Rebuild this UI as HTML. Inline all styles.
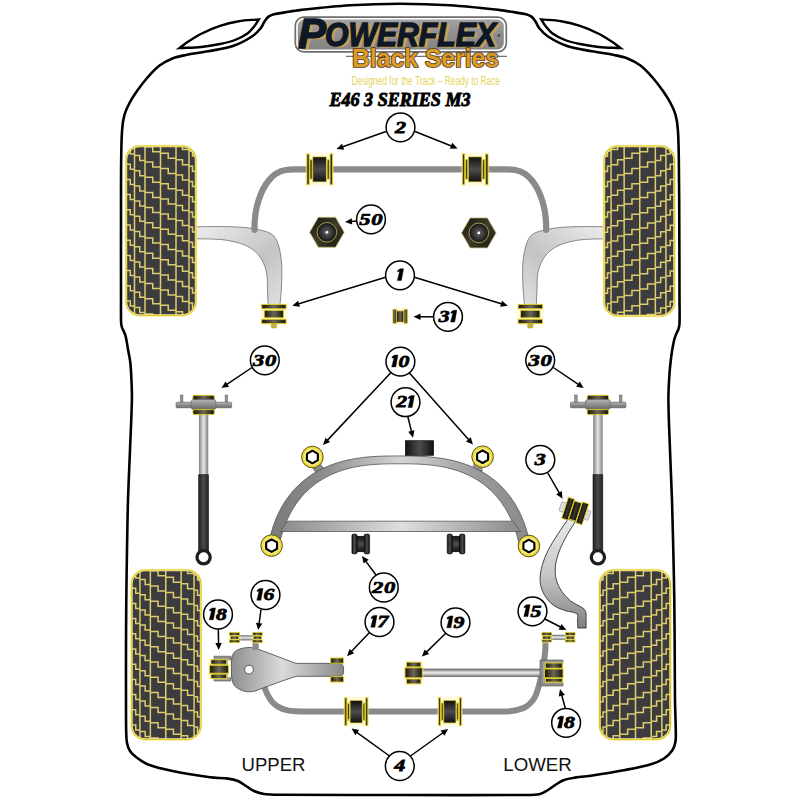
<!DOCTYPE html>
<html><head><meta charset="utf-8"><style>html,body{margin:0;padding:0;background:#fff;}svg{display:block;}</style></head>
<body><svg width="800" height="800" viewBox="0 0 800 800">
<defs>
<linearGradient id="gDarkH" x1="0" y1="0" x2="1" y2="0"><stop offset="0" stop-color="#0c0c0a"/><stop offset="0.5" stop-color="#38362e"/><stop offset="1" stop-color="#0c0c0a"/></linearGradient>
<linearGradient id="gGrayH" x1="0" y1="0" x2="1" y2="0"><stop offset="0" stop-color="#121212"/><stop offset="0.5" stop-color="#4c4c4c"/><stop offset="1" stop-color="#121212"/></linearGradient>
<linearGradient id="gDarkV" x1="0" y1="0" x2="0" y2="1"><stop offset="0" stop-color="#101010"/><stop offset="0.5" stop-color="#4c4c4c"/><stop offset="1" stop-color="#101010"/></linearGradient>
<linearGradient id="gDarkF" x1="0" y1="0" x2="1" y2="0"><stop offset="0" stop-color="#1a1408"/><stop offset="0.5" stop-color="#6a6858"/><stop offset="1" stop-color="#1a1408"/></linearGradient>
<linearGradient id="gArmL" x1="0" y1="0" x2="1" y2="1"><stop offset="0" stop-color="#ededed"/><stop offset="0.6" stop-color="#c4c4c4"/><stop offset="1" stop-color="#e0e0e0"/></linearGradient>
<linearGradient id="gArmR" x1="1" y1="0" x2="0" y2="1"><stop offset="0" stop-color="#ededed"/><stop offset="0.6" stop-color="#c4c4c4"/><stop offset="1" stop-color="#e0e0e0"/></linearGradient>
<linearGradient id="gRod" x1="0" y1="0" x2="1" y2="0"><stop offset="0" stop-color="#8a8a8a"/><stop offset="0.5" stop-color="#e6e6e6"/><stop offset="1" stop-color="#8a8a8a"/></linearGradient>
<linearGradient id="gRodH" x1="0" y1="0" x2="0" y2="1"><stop offset="0" stop-color="#777"/><stop offset="0.5" stop-color="#eee"/><stop offset="1" stop-color="#777"/></linearGradient>
<linearGradient id="gShock" x1="0" y1="0" x2="1" y2="0"><stop offset="0" stop-color="#222"/><stop offset="0.5" stop-color="#4a4a4a"/><stop offset="1" stop-color="#222"/></linearGradient>
<linearGradient id="gSub" x1="0" y1="0" x2="1" y2="0"><stop offset="0" stop-color="#7a7a7a"/><stop offset="0.2" stop-color="#8a8a8a"/><stop offset="0.5" stop-color="#d4d4d4"/><stop offset="0.8" stop-color="#9a9a9a"/><stop offset="1" stop-color="#8a8a8a"/></linearGradient>
<linearGradient id="gSubBar" x1="0" y1="0" x2="1" y2="0"><stop offset="0" stop-color="#8a8a8a"/><stop offset="0.5" stop-color="#dedede"/><stop offset="1" stop-color="#8a8a8a"/></linearGradient>
<linearGradient id="gTrail" x1="0" y1="0" x2="0" y2="1"><stop offset="0" stop-color="#e8e8e8"/><stop offset="0.5" stop-color="#c8c8c8"/><stop offset="1" stop-color="#808080"/></linearGradient>
<linearGradient id="gUArm" x1="0" y1="0" x2="1" y2="0"><stop offset="0" stop-color="#8e8e8e"/><stop offset="0.45" stop-color="#dadada"/><stop offset="1" stop-color="#8a8a8a"/></linearGradient>
<linearGradient id="gPlate" x1="0" y1="0" x2="0" y2="1"><stop offset="0" stop-color="#b4b4b4"/><stop offset="0.5" stop-color="#8e8e8e"/><stop offset="1" stop-color="#6a6a6a"/></linearGradient>
<radialGradient id="gNut" cx="0.5" cy="0.5" r="0.5"><stop offset="0" stop-color="#666"/><stop offset="1" stop-color="#111"/></radialGradient>
<linearGradient id="gHex" x1="0" y1="0" x2="1" y2="1"><stop offset="0" stop-color="#16160f"/><stop offset="0.5" stop-color="#3e3c2e"/><stop offset="1" stop-color="#16160f"/></linearGradient>
<clipPath id="tclip"><rect x="0" y="0" width="70" height="169.5" rx="14" ry="14"/></clipPath><g id="tire"><rect x="0" y="0" width="70" height="169.5" rx="14" ry="14" fill="#3c3b3e"/><g clip-path="url(#tclip)" fill="none" stroke="#dccd6e" stroke-width="1.5"><path d="M8.5,0V169.5M19,0V169.5M34.5,0V169.5M50,0V169.5M63,0V169.5M0,-27.40H4.25 V-22.40H8.5M0,-12.20H4.25 V-7.20H8.5M0,3.00H4.25 V8.00H8.5M0,18.20H4.25 V23.20H8.5M0,33.40H4.25 V38.40H8.5M0,48.60H4.25 V53.60H8.5M0,63.80H4.25 V68.80H8.5M0,79.00H4.25 V84.00H8.5M0,94.20H4.25 V99.20H8.5M0,109.40H4.25 V114.40H8.5M0,124.60H4.25 V129.60H8.5M0,139.80H4.25 V144.80H8.5M0,155.00H4.25 V160.00H8.5M0,170.20H4.25 V175.20H8.5M0,185.40H4.25 V190.40H8.5M0,200.60H4.25 V205.60H8.5M8.5,-20.90H13.75 V-15.90H19M8.5,-5.70H13.75 V-0.70H19M8.5,9.50H13.75 V14.50H19M8.5,24.70H13.75 V29.70H19M8.5,39.90H13.75 V44.90H19M8.5,55.10H13.75 V60.10H19M8.5,70.30H13.75 V75.30H19M8.5,85.50H13.75 V90.50H19M8.5,100.70H13.75 V105.70H19M8.5,115.90H13.75 V120.90H19M8.5,131.10H13.75 V136.10H19M8.5,146.30H13.75 V151.30H19M8.5,161.50H13.75 V166.50H19M8.5,176.70H13.75 V181.70H19M8.5,191.90H13.75 V196.90H19M8.5,207.10H13.75 V212.10H19M19,-14.40H26.75 V-9.40H34.5M19,0.80H26.75 V5.80H34.5M19,16.00H26.75 V21.00H34.5M19,31.20H26.75 V36.20H34.5M19,46.40H26.75 V51.40H34.5M19,61.60H26.75 V66.60H34.5M19,76.80H26.75 V81.80H34.5M19,92.00H26.75 V97.00H34.5M19,107.20H26.75 V112.20H34.5M19,122.40H26.75 V127.40H34.5M19,137.60H26.75 V142.60H34.5M19,152.80H26.75 V157.80H34.5M19,168.00H26.75 V173.00H34.5M19,183.20H26.75 V188.20H34.5M19,198.40H26.75 V203.40H34.5M19,213.60H26.75 V218.60H34.5M34.5,-7.90H42.25 V-2.90H50M34.5,7.30H42.25 V12.30H50M34.5,22.50H42.25 V27.50H50M34.5,37.70H42.25 V42.70H50M34.5,52.90H42.25 V57.90H50M34.5,68.10H42.25 V73.10H50M34.5,83.30H42.25 V88.30H50M34.5,98.50H42.25 V103.50H50M34.5,113.70H42.25 V118.70H50M34.5,128.90H42.25 V133.90H50M34.5,144.10H42.25 V149.10H50M34.5,159.30H42.25 V164.30H50M34.5,174.50H42.25 V179.50H50M34.5,189.70H42.25 V194.70H50M34.5,204.90H42.25 V209.90H50M34.5,220.10H42.25 V225.10H50M50,-1.40H56.5 V3.60H63M50,13.80H56.5 V18.80H63M50,29.00H56.5 V34.00H63M50,44.20H56.5 V49.20H63M50,59.40H56.5 V64.40H63M50,74.60H56.5 V79.60H63M50,89.80H56.5 V94.80H63M50,105.00H56.5 V110.00H63M50,120.20H56.5 V125.20H63M50,135.40H56.5 V140.40H63M50,150.60H56.5 V155.60H63M50,165.80H56.5 V170.80H63M50,181.00H56.5 V186.00H63M50,196.20H56.5 V201.20H63M50,211.40H56.5 V216.40H63M50,226.60H56.5 V231.60H63M63,5.10H66.5 V10.10H70M63,20.30H66.5 V25.30H70M63,35.50H66.5 V40.50H70M63,50.70H66.5 V55.70H70M63,65.90H66.5 V70.90H70M63,81.10H66.5 V86.10H70M63,96.30H66.5 V101.30H70M63,111.50H66.5 V116.50H70M63,126.70H66.5 V131.70H70M63,141.90H66.5 V146.90H70M63,157.10H66.5 V162.10H70M63,172.30H66.5 V177.30H70M63,187.50H66.5 V192.50H70M63,202.70H66.5 V207.70H70M63,217.90H66.5 V222.90H70M63,233.10H66.5 V238.10H70"/></g><rect x="0" y="0" width="70" height="169.5" rx="14" ry="14" fill="none" stroke="#f8eea0" stroke-width="2.4"/><rect x="0" y="0" width="70" height="169.5" rx="14" ry="14" fill="none" stroke="#e0c828" stroke-width="1.1"/></g></defs>
<rect width="800" height="800" fill="#fff"/>
<path d="M 280.00,794.80 C 274.66,794.76 269.28,794.77 264.00,794.00 C 260.56,793.50 257.18,792.41 254.00,791.00 C 251.13,789.72 248.67,787.67 246.00,786.00 C 243.33,784.33 240.91,782.20 238.00,781.00 C 234.83,779.70 231.40,779.05 228.00,778.60 C 222.04,777.81 215.96,778.12 210.00,777.30 C 197.44,775.58 184.91,773.56 172.50,771.00 C 164.23,769.29 155.89,767.53 148.00,764.50 C 143.60,762.81 139.77,759.83 136.00,757.00 C 133.74,755.30 131.53,753.38 130.00,751.00 C 128.46,748.60 127.56,745.79 127.00,743.00 C 126.28,739.40 126.29,735.68 126.20,732.00 C 125.95,721.34 126.03,710.67 126.00,700.00 C 125.96,683.33 125.95,666.67 126.00,650.00 C 126.05,633.33 126.13,616.67 126.30,600.00 C 126.47,583.33 126.72,566.67 127.00,550.00 C 127.28,533.33 127.50,516.66 128.00,500.00 C 128.50,483.33 129.35,466.67 130.00,450.00 C 130.65,433.33 131.54,416.67 131.90,400.00 C 132.04,393.67 131.77,387.33 131.50,381.00 C 131.24,374.83 130.97,368.64 130.30,362.50 C 129.84,358.29 128.84,354.17 128.10,350.00 C 127.27,345.33 126.69,340.61 125.60,336.00 C 125.21,334.36 124.36,332.86 123.70,331.30 C 123.16,330.02 122.39,328.83 122.00,327.50 C 121.52,325.88 121.16,324.19 121.10,322.50 C 120.83,315.00 121.01,307.50 121.00,300.00 C 120.97,266.67 120.95,233.33 121.00,200.00 C 121.02,186.00 120.98,172.00 121.20,158.00 C 121.35,148.66 121.41,139.31 122.10,130.00 C 122.48,124.96 123.06,119.88 124.40,115.00 C 125.55,110.81 127.48,106.85 129.50,103.00 C 131.69,98.82 134.28,94.85 137.00,91.00 C 140.29,86.34 143.73,81.77 147.50,77.50 C 151.24,73.26 154.99,68.91 159.50,65.50 C 163.58,62.41 168.24,60.08 173.00,58.20 C 177.15,56.56 181.62,55.86 186.00,55.00 C 193.30,53.56 200.70,52.70 208.00,51.30 C 216.37,49.70 224.93,48.72 233.00,46.00 C 239.71,43.74 246.03,40.30 252.00,36.50 C 255.28,34.41 258.01,31.49 260.50,28.50 C 262.22,26.44 263.00,23.73 264.50,21.50 C 265.68,19.75 266.82,17.87 268.50,16.60 C 270.08,15.40 272.07,14.79 274.00,14.30 C 277.61,13.38 281.33,12.99 285.00,12.40 C 289.99,11.59 294.97,10.65 300.00,10.10 C 316.64,8.28 333.29,6.37 350.00,5.30 C 366.64,4.23 383.32,3.70 400.00,3.70 C 416.68,3.70 433.36,4.23 450.00,5.30 C 466.71,6.37 483.36,8.28 500.00,10.10 C 505.03,10.65 510.01,11.59 515.00,12.40 C 518.67,12.99 522.39,13.38 526.00,14.30 C 527.93,14.79 529.92,15.40 531.50,16.60 C 533.18,17.87 534.32,19.75 535.50,21.50 C 537.00,23.73 537.78,26.44 539.50,28.50 C 541.99,31.49 544.72,34.41 548.00,36.50 C 553.97,40.30 560.29,43.74 567.00,46.00 C 575.07,48.72 583.63,49.70 592.00,51.30 C 599.30,52.70 606.70,53.56 614.00,55.00 C 618.38,55.86 622.85,56.56 627.00,58.20 C 631.76,60.08 636.42,62.41 640.50,65.50 C 645.01,68.91 648.76,73.26 652.50,77.50 C 656.27,81.77 659.71,86.34 663.00,91.00 C 665.72,94.85 668.31,98.82 670.50,103.00 C 672.52,106.85 674.45,110.81 675.60,115.00 C 676.94,119.88 677.52,124.96 677.90,130.00 C 678.59,139.31 678.63,148.66 678.80,158.00 C 679.06,172.00 679.13,186.00 679.20,200.00 C 679.36,233.33 679.42,266.67 679.50,300.00 C 679.52,308.00 679.83,316.01 679.50,324.00 C 679.42,325.87 678.89,327.72 678.30,329.50 C 677.72,331.24 676.66,332.79 676.00,334.50 C 675.19,336.63 674.39,338.78 673.90,341.00 C 672.82,345.96 671.97,350.97 671.30,356.00 C 670.46,362.31 669.82,368.65 669.40,375.00 C 668.85,383.32 668.33,391.66 668.40,400.00 C 668.53,416.67 669.40,433.34 670.00,450.00 C 670.60,466.67 671.45,483.33 672.00,500.00 C 672.55,516.66 672.92,533.33 673.30,550.00 C 673.68,566.67 674.07,583.33 674.30,600.00 C 674.53,616.67 674.58,633.33 674.70,650.00 C 674.82,666.67 674.78,683.33 675.00,700.00 C 675.14,710.67 675.70,721.33 675.80,732.00 C 675.83,735.34 676.01,738.72 675.40,742.00 C 674.86,744.89 674.07,747.88 672.40,750.30 C 670.18,753.52 667.28,756.37 664.00,758.50 C 660.03,761.08 655.54,762.86 651.00,764.20 C 642.48,766.71 633.72,768.32 625.00,770.00 C 614.21,772.08 603.36,773.85 592.50,775.50 C 586.69,776.38 580.80,776.68 575.00,777.60 C 571.29,778.19 567.53,778.72 564.00,780.00 C 561.12,781.04 558.59,782.88 556.00,784.50 C 553.26,786.22 550.78,788.35 548.00,790.00 C 545.44,791.52 542.91,793.37 540.00,794.00 C 535.10,795.06 530.01,794.96 525.00,795.00 C 483.33,795.30 441.67,795.03 400.00,795.00 C 360.00,794.97 320.00,795.09 280.00,794.80 Z" fill="none" stroke="#000" stroke-width="2.6" stroke-linejoin="round"/>
<path d="M 179.40,48.10 C 182.52,45.83 185.52,43.41 188.75,41.30 C 192.83,38.64 196.93,35.97 201.30,33.80 C 207.37,30.79 213.57,27.96 220.00,25.80 C 226.12,23.75 232.43,22.25 238.80,21.20 C 245.40,20.11 252.13,20.00 258.80,19.40 L 258.80,19.40 C 257.37,21.60 256.14,23.95 254.50,26.00 C 252.36,28.67 250.28,31.51 247.50,33.50 C 243.69,36.24 239.39,38.32 235.00,40.00 C 230.17,41.85 225.07,42.95 220.00,44.00 C 213.82,45.28 207.58,46.37 201.30,47.00 C 194.03,47.73 186.70,47.73 179.40,48.10 Z" fill="none" stroke="#000" stroke-width="2.4" stroke-linejoin="miter" stroke-miterlimit="10"/><path d="M 620.60,48.10 C 617.48,45.83 614.48,43.41 611.25,41.30 C 607.17,38.64 603.07,35.97 598.70,33.80 C 592.63,30.79 586.43,27.96 580.00,25.80 C 573.88,23.75 567.57,22.25 561.20,21.20 C 554.60,20.11 547.87,20.00 541.20,19.40 L 541.20,19.40 C 542.63,21.60 543.86,23.95 545.50,26.00 C 547.64,28.67 549.72,31.51 552.50,33.50 C 556.31,36.24 560.61,38.32 565.00,40.00 C 569.83,41.85 574.93,42.95 580.00,44.00 C 586.18,45.28 592.42,46.37 598.70,47.00 C 605.97,47.73 613.30,47.73 620.60,48.10 Z" fill="none" stroke="#000" stroke-width="2.4" stroke-linejoin="miter" stroke-miterlimit="10"/>
<path d="M 196.00,226.90 C 204.00,226.77 212.00,226.40 220.00,226.50 C 228.34,226.60 236.69,226.77 245.00,227.50 C 250.05,227.94 255.06,228.87 260.00,230.00 C 263.41,230.78 266.87,231.63 270.00,233.20 C 271.97,234.18 273.77,235.68 275.00,237.50 C 276.78,240.15 277.91,243.23 278.80,246.30 C 279.99,250.37 280.68,254.59 281.20,258.80 C 281.71,262.94 281.89,267.13 281.90,271.30 C 281.92,277.54 281.66,283.77 281.30,290.00 C 281.02,294.84 280.43,299.67 280.00,304.50  L 268.10,304.50 C 267.90,299.67 267.70,294.83 267.50,290.00 C 267.30,285.00 267.60,279.95 266.90,275.00 C 266.36,271.16 265.37,267.34 263.80,263.80 C 262.20,260.20 260.19,256.68 257.50,253.80 C 254.66,250.75 251.18,248.25 247.50,246.30 C 243.60,244.23 239.28,242.98 235.00,241.90 C 230.08,240.67 225.05,239.80 220.00,239.40 C 212.02,238.77 204.00,239.00 196.00,238.80  Z" fill="url(#gArmL)" stroke="#6e6e6e" stroke-width="0.8"/><path d="M 608.50,226.90 C 600.50,226.77 592.50,226.40 584.50,226.50 C 576.16,226.60 567.81,226.77 559.50,227.50 C 554.45,227.94 549.44,228.87 544.50,230.00 C 541.09,230.78 537.63,231.63 534.50,233.20 C 532.53,234.18 530.73,235.68 529.50,237.50 C 527.72,240.15 526.59,243.23 525.70,246.30 C 524.51,250.37 523.82,254.59 523.30,258.80 C 522.79,262.94 522.61,267.13 522.60,271.30 C 522.58,277.54 522.84,283.77 523.20,290.00 C 523.48,294.84 524.07,299.67 524.50,304.50  L 536.40,304.50 C 536.60,299.67 536.80,294.83 537.00,290.00 C 537.20,285.00 536.90,279.95 537.60,275.00 C 538.14,271.16 539.13,267.34 540.70,263.80 C 542.30,260.20 544.31,256.68 547.00,253.80 C 549.84,250.75 553.32,248.25 557.00,246.30 C 560.90,244.23 565.22,242.98 569.50,241.90 C 574.42,240.67 579.45,239.80 584.50,239.40 C 592.48,238.77 600.50,239.00 608.50,238.80  Z" fill="url(#gArmR)" stroke="#6e6e6e" stroke-width="0.8"/><path d="M 254.50,230.00 C 254.57,227.33 254.50,224.66 254.70,222.00 C 254.97,218.32 255.24,214.63 255.90,211.00 C 256.58,207.28 257.53,203.60 258.70,200.00 C 259.87,196.42 261.18,192.85 262.90,189.50 C 264.53,186.32 266.44,183.27 268.70,180.50 C 270.74,178.00 272.95,175.50 275.70,173.80 C 278.73,171.93 282.19,170.62 285.70,170.00 C 290.63,169.13 295.70,169.60 300.70,169.40  L500,169.4 L 500.00,169.40 C 505.00,169.60 510.07,169.13 515.00,170.00 C 518.51,170.62 521.97,171.93 525.00,173.80 C 527.75,175.50 529.96,178.00 532.00,180.50 C 534.26,183.27 536.17,186.32 537.80,189.50 C 539.52,192.85 540.83,196.42 542.00,200.00 C 543.17,203.60 544.12,207.28 544.80,211.00 C 545.46,214.63 545.73,218.32 546.00,222.00 C 546.20,224.66 546.13,227.33 546.20,230.00 " fill="none" stroke="#8a8a8a" stroke-width="6.2" stroke-linecap="round" stroke-linejoin="round"/><rect x="305.30" y="152.50" width="28.70" height="33.70" rx="2" fill="#fbf3a0" opacity="0.3"/><rect x="306.90" y="154.00" width="2.30" height="30.70" rx="0" fill="url(#gDarkH)" stroke="#e2cf1e" stroke-width="0.9"/><rect x="310.00" y="159.70" width="2.10" height="19.40" rx="0" fill="url(#gDarkH)" stroke="#e2cf1e" stroke-width="0.9"/><rect x="312.80" y="156.90" width="13.50" height="25.00" rx="0" fill="url(#gDarkV)" stroke="#e2cf1e" stroke-width="0.7"/><rect x="327.20" y="159.70" width="2.00" height="19.40" rx="0" fill="url(#gDarkH)" stroke="#e2cf1e" stroke-width="0.9"/><rect x="330.10" y="154.00" width="2.40" height="30.70" rx="0" fill="url(#gDarkH)" stroke="#e2cf1e" stroke-width="0.9"/><rect x="460.80" y="152.50" width="28.70" height="33.70" rx="2" fill="#fbf3a0" opacity="0.3"/><rect x="462.40" y="154.00" width="2.30" height="30.70" rx="0" fill="url(#gDarkH)" stroke="#e2cf1e" stroke-width="0.9"/><rect x="465.50" y="159.70" width="2.10" height="19.40" rx="0" fill="url(#gDarkH)" stroke="#e2cf1e" stroke-width="0.9"/><rect x="468.30" y="156.90" width="13.50" height="25.00" rx="0" fill="url(#gDarkV)" stroke="#e2cf1e" stroke-width="0.7"/><rect x="482.70" y="159.70" width="2.00" height="19.40" rx="0" fill="url(#gDarkH)" stroke="#e2cf1e" stroke-width="0.9"/><rect x="485.60" y="154.00" width="2.40" height="30.70" rx="0" fill="url(#gDarkH)" stroke="#e2cf1e" stroke-width="0.9"/><rect x="260.25" y="303.00" width="27.30" height="22.10" rx="2" fill="#fbf3a0" opacity="0.3"/><rect x="261.75" y="304.50" width="24.30" height="4.30" rx="0" fill="url(#gDarkF)" stroke="#e2cf1e" stroke-width="0.9"/><rect x="264.25" y="310.30" width="19.30" height="7.50" rx="0" fill="url(#gDarkF)" stroke="#e2cf1e" stroke-width="0.9"/><rect x="261.75" y="319.30" width="24.30" height="4.30" rx="0" fill="url(#gDarkF)" stroke="#e2cf1e" stroke-width="0.9"/><rect x="271.30" y="323.60" width="5.20" height="4.50" rx="1" fill="#c9b23a" stroke="#b09a20" stroke-width="0.5"/><rect x="516.65" y="303.00" width="27.30" height="22.10" rx="2" fill="#fbf3a0" opacity="0.3"/><rect x="518.15" y="304.50" width="24.30" height="4.30" rx="0" fill="url(#gDarkF)" stroke="#e2cf1e" stroke-width="0.9"/><rect x="520.65" y="310.30" width="19.30" height="7.50" rx="0" fill="url(#gDarkF)" stroke="#e2cf1e" stroke-width="0.9"/><rect x="518.15" y="319.30" width="24.30" height="4.30" rx="0" fill="url(#gDarkF)" stroke="#e2cf1e" stroke-width="0.9"/><rect x="527.70" y="323.60" width="5.20" height="4.50" rx="1" fill="#c9b23a" stroke="#b09a20" stroke-width="0.5"/><rect x="391.50" y="308.00" width="17.20" height="16.70" rx="2" fill="#fbf3a0" opacity="0.3"/><rect x="393.00" y="309.50" width="3.20" height="13.70" rx="0" fill="url(#gDarkF)" stroke="#c8b41c" stroke-width="0.8"/><rect x="396.80" y="311.00" width="6.80" height="11.00" rx="0" fill="url(#gDarkF)" stroke="#c8b41c" stroke-width="0.6"/><rect x="404.10" y="309.50" width="3.10" height="13.70" rx="0" fill="url(#gDarkF)" stroke="#c8b41c" stroke-width="0.8"/><polygon points="344.20,232.30 335.55,247.28 318.25,247.28 309.60,232.30 318.25,217.32 335.55,217.32" fill="url(#gHex)" stroke="#c8bc70" stroke-width="0.8"/><circle cx="326.9" cy="232.3" r="9.8" fill="url(#gNut)" stroke="#a89a48" stroke-width="1"/><circle cx="326.9" cy="232.3" r="1.4" fill="#fff"/><polygon points="496.10,232.90 487.45,247.88 470.15,247.88 461.50,232.90 470.15,217.92 487.45,217.92" fill="url(#gHex)" stroke="#c8bc70" stroke-width="0.8"/><circle cx="478.8" cy="232.9" r="9.8" fill="url(#gNut)" stroke="#a89a48" stroke-width="1"/><circle cx="478.8" cy="232.9" r="1.4" fill="#fff"/><rect x="199.2" y="409" width="8.8" height="67" fill="url(#gRod)" stroke="#777" stroke-width="0.5"/><rect x="198.7" y="474.7" width="9.8" height="78" fill="url(#gShock)" stroke="#111" stroke-width="0.6"/><circle cx="203.6" cy="557.3" r="6.6" fill="#fff" stroke="#1e1e1e" stroke-width="3.3"/><rect x="180.3" y="395" width="2.6" height="8" fill="#999" stroke="#555" stroke-width="0.5"/><rect x="225.1" y="395" width="2.6" height="8" fill="#999" stroke="#555" stroke-width="0.5"/><rect x="176.1" y="402.2" width="55.5" height="5.6" rx="1" fill="url(#gPlate)" stroke="#555" stroke-width="0.6"/><rect x="192.9" y="395.3" width="21.4" height="5.5" rx="1.5" fill="url(#gDarkF)" stroke="#e2cf1e" stroke-width="0.9"/><rect x="191.3" y="399.5" width="24.6" height="10" rx="2" fill="url(#gPlate)" stroke="#666" stroke-width="0.6"/><rect x="192.9" y="409.6" width="21.4" height="5" rx="1.5" fill="url(#gDarkF)" stroke="#e2cf1e" stroke-width="0.9"/><rect x="593.5" y="409" width="8.8" height="67" fill="url(#gRod)" stroke="#777" stroke-width="0.5"/><rect x="593" y="474.7" width="9.8" height="78" fill="url(#gShock)" stroke="#111" stroke-width="0.6"/><circle cx="597.9" cy="557.3" r="6.6" fill="#fff" stroke="#1e1e1e" stroke-width="3.3"/><rect x="574.6" y="395" width="2.6" height="8" fill="#999" stroke="#555" stroke-width="0.5"/><rect x="619.4" y="395" width="2.6" height="8" fill="#999" stroke="#555" stroke-width="0.5"/><rect x="570.4" y="402.2" width="55.5" height="5.6" rx="1" fill="url(#gPlate)" stroke="#555" stroke-width="0.6"/><rect x="587.2" y="395.3" width="21.4" height="5.5" rx="1.5" fill="url(#gDarkF)" stroke="#e2cf1e" stroke-width="0.9"/><rect x="585.6" y="399.5" width="24.6" height="10" rx="2" fill="url(#gPlate)" stroke="#666" stroke-width="0.6"/><rect x="587.2" y="409.6" width="21.4" height="5" rx="1.5" fill="url(#gDarkF)" stroke="#e2cf1e" stroke-width="0.9"/><path d="M309,462 L317,460 L324,468.5 L316,473 Z" fill="#888" stroke="#555" stroke-width="0.6"/><path d="M474,462 L482.5,462 L482,471.5 L473.5,467 Z" fill="#999" stroke="#555" stroke-width="0.6"/><path d="M 268.13,546.00 C 268.55,543.96 268.93,541.91 269.40,539.88 C 269.84,537.93 270.32,535.98 270.85,534.05 C 271.35,532.18 271.90,530.32 272.48,528.48 C 273.05,526.69 273.66,524.92 274.31,523.16 C 274.94,521.44 275.60,519.74 276.31,518.06 C 277.00,516.42 277.74,514.79 278.50,513.18 C 279.26,511.61 280.05,510.05 280.88,508.52 C 281.69,507.01 282.55,505.52 283.44,504.06 C 284.31,502.62 285.23,501.20 286.18,499.81 C 287.12,498.43 288.09,497.07 289.10,495.75 C 290.10,494.44 291.14,493.15 292.21,491.89 C 293.27,490.64 294.37,489.42 295.49,488.23 C 296.62,487.04 297.78,485.88 298.96,484.76 C 300.15,483.64 301.37,482.55 302.62,481.49 C 303.87,480.43 305.15,479.40 306.46,478.41 C 307.78,477.41 309.12,476.45 310.49,475.53 C 311.87,474.60 313.27,473.70 314.70,472.84 C 316.15,471.97 317.62,471.14 319.11,470.35 C 320.63,469.55 322.17,468.78 323.73,468.06 C 325.31,467.32 326.92,466.62 328.54,465.96 C 330.21,465.28 331.89,464.65 333.58,464.06 C 335.32,463.45 337.08,462.88 338.85,462.36 C 340.67,461.81 342.51,461.31 344.36,460.85 C 346.29,460.38 348.22,459.94 350.16,459.55 C 352.19,459.14 354.23,458.77 356.28,458.44 C 358.44,458.10 360.60,457.80 362.77,457.54 C 365.09,457.26 367.42,457.03 369.75,456.84 C 372.30,456.63 374.85,456.46 377.41,456.33 C 380.34,456.19 383.27,456.08 386.20,456.03 C 390.56,455.95 394.91,455.93 399.27,455.93 C 403.63,455.93 407.98,455.95 412.34,456.03 C 415.27,456.08 418.20,456.19 421.13,456.33 C 423.69,456.46 426.24,456.63 428.79,456.84 C 431.12,457.03 433.45,457.26 435.77,457.54 C 437.94,457.80 440.10,458.10 442.26,458.44 C 444.31,458.77 446.35,459.14 448.38,459.55 C 450.32,459.94 452.25,460.38 454.18,460.85 C 456.03,461.31 457.87,461.81 459.69,462.36 C 461.46,462.88 463.22,463.45 464.96,464.06 C 466.65,464.65 468.33,465.28 470.00,465.96 C 471.62,466.62 473.23,467.32 474.81,468.06 C 476.37,468.78 477.91,469.55 479.43,470.35 C 480.92,471.14 482.39,471.97 483.84,472.84 C 485.27,473.70 486.67,474.60 488.05,475.53 C 489.42,476.45 490.76,477.41 492.08,478.41 C 493.39,479.40 494.67,480.43 495.92,481.49 C 497.17,482.55 498.39,483.64 499.58,484.76 C 500.76,485.88 501.92,487.04 503.05,488.23 C 504.17,489.42 505.27,490.64 506.33,491.89 C 507.40,493.15 508.44,494.44 509.44,495.75 C 510.45,497.07 511.42,498.43 512.36,499.81 C 513.31,501.20 514.23,502.62 515.10,504.06 C 515.99,505.52 516.85,507.01 517.66,508.52 C 518.49,510.05 519.28,511.61 520.04,513.18 C 520.80,514.79 521.54,516.42 522.23,518.06 C 522.94,519.74 523.60,521.44 524.23,523.16 C 524.88,524.92 525.49,526.69 526.06,528.48 C 526.64,530.32 527.19,532.18 527.69,534.05 C 528.22,535.98 528.70,537.93 529.14,539.88 C 529.61,541.91 529.99,543.96 530.41,546.00  L 519.46,546.00 C 519.05,544.15 518.67,542.30 518.22,540.46 C 517.79,538.68 517.32,536.92 516.82,535.16 C 516.33,533.46 515.81,531.77 515.25,530.10 C 514.71,528.47 514.13,526.85 513.52,525.25 C 512.92,523.68 512.29,522.13 511.62,520.60 C 510.97,519.10 510.28,517.62 509.56,516.15 C 508.85,514.71 508.11,513.29 507.33,511.89 C 506.57,510.51 505.77,509.15 504.94,507.81 C 504.12,506.50 503.27,505.20 502.39,503.92 C 501.52,502.66 500.61,501.43 499.68,500.21 C 498.75,499.01 497.79,497.83 496.80,496.68 C 495.82,495.54 494.80,494.42 493.76,493.33 C 492.72,492.24 491.65,491.19 490.56,490.16 C 489.46,489.13 488.34,488.13 487.19,487.16 C 486.04,486.19 484.86,485.25 483.66,484.34 C 482.45,483.43 481.22,482.55 479.97,481.71 C 478.70,480.85 477.41,480.03 476.10,479.25 C 474.77,478.45 473.43,477.69 472.06,476.97 C 470.67,476.23 469.26,475.53 467.84,474.86 C 466.39,474.19 464.92,473.55 463.44,472.94 C 461.92,472.33 460.39,471.75 458.84,471.20 C 457.25,470.65 455.65,470.13 454.04,469.64 C 452.37,469.15 450.69,468.69 449.01,468.27 C 447.26,467.83 445.50,467.43 443.73,467.07 C 441.88,466.70 440.03,466.36 438.16,466.06 C 436.20,465.75 434.23,465.47 432.26,465.23 C 430.15,464.98 428.04,464.77 425.92,464.59 C 423.61,464.40 421.29,464.24 418.97,464.13 C 416.32,464.00 413.66,463.90 411.01,463.85 C 407.08,463.78 403.16,463.76 399.23,463.76 C 395.30,463.76 391.38,463.78 387.45,463.85 C 384.80,463.90 382.14,464.00 379.49,464.13 C 377.17,464.24 374.85,464.40 372.54,464.59 C 370.42,464.77 368.31,464.98 366.20,465.23 C 364.23,465.47 362.26,465.75 360.30,466.06 C 358.43,466.36 356.58,466.70 354.73,467.07 C 352.96,467.43 351.20,467.83 349.45,468.27 C 347.77,468.69 346.09,469.15 344.42,469.64 C 342.81,470.13 341.21,470.65 339.62,471.20 C 338.07,471.75 336.54,472.33 335.02,472.94 C 333.54,473.55 332.07,474.19 330.62,474.86 C 329.20,475.53 327.79,476.23 326.40,476.97 C 325.03,477.69 323.69,478.45 322.36,479.25 C 321.05,480.03 319.76,480.85 318.49,481.71 C 317.24,482.55 316.01,483.43 314.80,484.34 C 313.60,485.25 312.42,486.19 311.27,487.16 C 310.12,488.13 309.00,489.13 307.90,490.16 C 306.81,491.19 305.74,492.24 304.70,493.33 C 303.66,494.42 302.64,495.54 301.66,496.68 C 300.67,497.83 299.71,499.01 298.78,500.21 C 297.85,501.43 296.94,502.66 296.07,503.92 C 295.19,505.20 294.34,506.50 293.52,507.81 C 292.69,509.15 291.89,510.51 291.13,511.89 C 290.35,513.29 289.61,514.71 288.90,516.15 C 288.18,517.62 287.49,519.10 286.84,520.60 C 286.17,522.13 285.54,523.68 284.94,525.25 C 284.33,526.85 283.75,528.47 283.21,530.10 C 282.65,531.77 282.13,533.46 281.64,535.16 C 281.14,536.92 280.67,538.68 280.24,540.46 C 279.79,542.30 279.41,544.15 279.00,546.00  Z" fill="url(#gSub)" stroke="#555" stroke-width="0.8"/><path d="M286.8,521.2 H513 L520.5,531.5 H280.6 Z" fill="url(#gSubBar)" stroke="#555" stroke-width="0.8"/><circle cx="312.4" cy="457" r="10.8" fill="#ecdc3c" stroke="#5e5220" stroke-width="1"/><circle cx="312.4" cy="457" r="7.8" fill="none" stroke="#f8ee90" stroke-width="1.4"/><polygon points="317.86,460.15 312.40,463.30 306.94,460.15 306.94,453.85 312.40,450.70 317.86,453.85" fill="#fff" stroke="#000" stroke-width="2.1" stroke-linejoin="round"/><circle cx="482.6" cy="456.7" r="10.8" fill="#ecdc3c" stroke="#5e5220" stroke-width="1"/><circle cx="482.6" cy="456.7" r="7.8" fill="none" stroke="#f8ee90" stroke-width="1.4"/><polygon points="488.06,459.85 482.60,463.00 477.14,459.85 477.14,453.55 482.60,450.40 488.06,453.55" fill="#fff" stroke="#000" stroke-width="2.1" stroke-linejoin="round"/><circle cx="271.6" cy="545.6" r="10.8" fill="#ecdc3c" stroke="#5e5220" stroke-width="1"/><circle cx="271.6" cy="545.6" r="7.8" fill="none" stroke="#f8ee90" stroke-width="1.4"/><polygon points="277.06,548.75 271.60,551.90 266.14,548.75 266.14,542.45 271.60,539.30 277.06,542.45" fill="#fff" stroke="#000" stroke-width="2.1" stroke-linejoin="round"/><circle cx="528.9" cy="546" r="10.8" fill="#ecdc3c" stroke="#5e5220" stroke-width="1"/><circle cx="528.9" cy="546" r="7.8" fill="none" stroke="#f8ee90" stroke-width="1.4"/><polygon points="534.36,549.15 528.90,552.30 523.44,549.15 523.44,542.85 528.90,539.70 534.36,542.85" fill="#fff" stroke="#000" stroke-width="2.1" stroke-linejoin="round"/><rect x="405.3" y="440.7" width="28.4" height="14.6" fill="url(#gGrayH)" stroke="#000" stroke-width="0.6"/><rect x="357.1" y="536.2" width="7.4" height="15.6" fill="url(#gDarkV)" stroke="#000" stroke-width="0.5"/><rect x="351.9" y="534.1" width="5.2" height="19.8" rx="1.6" fill="url(#gGrayH)" stroke="#000" stroke-width="0.6"/><rect x="364.2" y="534.1" width="5.4" height="19.8" rx="1.6" fill="url(#gGrayH)" stroke="#000" stroke-width="0.6"/><rect x="452.4" y="536.2" width="7.4" height="15.6" fill="url(#gDarkV)" stroke="#000" stroke-width="0.5"/><rect x="447.2" y="534.1" width="5.2" height="19.8" rx="1.6" fill="url(#gGrayH)" stroke="#000" stroke-width="0.6"/><rect x="459.5" y="534.1" width="5.4" height="19.8" rx="1.6" fill="url(#gGrayH)" stroke="#000" stroke-width="0.6"/><path d="M 568.20,519.00 C 564.67,524.13 560.96,529.15 557.60,534.40 C 554.19,539.72 550.72,545.04 547.90,550.70 C 545.57,555.38 543.62,560.27 542.20,565.30 C 541.01,569.52 540.25,573.91 540.10,578.30 C 539.99,581.56 540.41,584.89 541.40,588.00 C 542.51,591.48 544.15,594.84 546.30,597.80 C 548.54,600.89 551.22,603.78 554.40,605.90 C 557.84,608.19 561.90,609.42 565.80,610.80 C 569.52,612.12 574.09,611.57 577.20,614.00 C 578.78,615.23 577.47,618.00 577.60,620.00  L577.8,628 L586.1,628 L 586.10,620.00 C 585.93,617.17 586.49,614.19 585.60,611.50 C 585.04,609.82 583.45,608.62 582.00,607.60 C 578.43,605.09 574.10,603.73 570.70,601.00 C 567.26,598.24 564.26,594.89 561.70,591.30 C 559.58,588.33 557.95,584.96 556.80,581.50 C 555.76,578.39 555.33,575.07 555.20,571.80 C 555.07,568.53 555.31,565.20 556.00,562.00 C 556.95,557.56 558.37,553.20 560.10,549.00 C 562.18,543.97 564.75,539.15 567.40,534.40 C 569.89,529.94 572.80,525.73 575.50,521.40  Z" fill="url(#gTrail)" stroke="#333" stroke-width="0.9"/><g transform="translate(575,511) rotate(18)"><rect x="-15.5" y="-5" width="31" height="10" rx="1.5" fill="#ddd" stroke="#999" stroke-width="0.6"/><rect x="-10.5" y="-11" width="6.5" height="22" fill="url(#gDarkH)" stroke="#e2cf1e" stroke-width="0.9"/><rect x="-3.6" y="-9.5" width="7.6" height="19" fill="url(#gDarkH)" stroke="#e2cf1e" stroke-width="0.9"/><rect x="4.4" y="-11" width="6.5" height="22" fill="url(#gDarkH)" stroke="#e2cf1e" stroke-width="0.9"/></g><path d="M 263.60,684.00 C 264.23,686.00 264.75,688.04 265.50,690.00 C 266.22,691.88 267.00,693.75 268.00,695.50 C 269.34,697.86 270.67,700.29 272.50,702.30 C 274.21,704.18 276.26,705.79 278.50,707.00 C 281.32,708.52 284.36,709.76 287.50,710.40 C 291.60,711.24 295.83,711.07 300.00,711.40  L500,711.4 L 500.00,711.40 C 503.33,711.33 506.68,711.47 510.00,711.20 C 512.36,711.01 514.70,710.58 517.00,710.00 C 519.62,709.34 522.29,708.71 524.70,707.50 C 526.68,706.51 528.45,705.08 530.00,703.50 C 531.91,701.55 533.75,699.43 535.00,697.00 C 536.62,693.86 537.47,690.38 538.50,687.00 C 539.40,684.04 540.09,681.01 540.80,678.00 C 541.59,674.68 542.38,671.36 543.00,668.00 C 543.61,664.69 544.07,661.34 544.50,658.00 C 544.84,655.34 545.13,652.67 545.30,650.00 C 545.47,647.34 545.43,644.67 545.50,642.00 " fill="none" stroke="#8a8a8a" stroke-width="6" stroke-linejoin="round"/><rect x="343.18" y="696.35" width="26.13" height="30.63" rx="2" fill="#fbf3a0" opacity="0.3"/><rect x="344.77" y="697.85" width="2.07" height="27.63" rx="0" fill="url(#gDarkH)" stroke="#e2cf1e" stroke-width="0.9"/><rect x="347.56" y="702.98" width="1.89" height="17.46" rx="0" fill="url(#gDarkH)" stroke="#e2cf1e" stroke-width="0.9"/><rect x="350.08" y="700.46" width="12.15" height="22.50" rx="0" fill="url(#gDarkV)" stroke="#e2cf1e" stroke-width="0.7"/><rect x="363.04" y="702.98" width="1.80" height="17.46" rx="0" fill="url(#gDarkH)" stroke="#e2cf1e" stroke-width="0.9"/><rect x="365.65" y="697.85" width="2.16" height="27.63" rx="0" fill="url(#gDarkH)" stroke="#e2cf1e" stroke-width="0.9"/><rect x="436.88" y="696.35" width="26.13" height="30.63" rx="2" fill="#fbf3a0" opacity="0.3"/><rect x="438.47" y="697.85" width="2.07" height="27.63" rx="0" fill="url(#gDarkH)" stroke="#e2cf1e" stroke-width="0.9"/><rect x="441.26" y="702.98" width="1.89" height="17.46" rx="0" fill="url(#gDarkH)" stroke="#e2cf1e" stroke-width="0.9"/><rect x="443.78" y="700.46" width="12.15" height="22.50" rx="0" fill="url(#gDarkV)" stroke="#e2cf1e" stroke-width="0.7"/><rect x="456.74" y="702.98" width="1.80" height="17.46" rx="0" fill="url(#gDarkH)" stroke="#e2cf1e" stroke-width="0.9"/><rect x="459.35" y="697.85" width="2.16" height="27.63" rx="0" fill="url(#gDarkH)" stroke="#e2cf1e" stroke-width="0.9"/><rect x="329.20" y="656.50" width="15.70" height="27.00" rx="2" fill="#fbf3a0" opacity="0.3"/><path d="M 231.60,677.00 C 231.53,674.00 231.40,671.00 231.40,668.00 C 231.40,665.33 231.29,662.65 231.60,660.00 C 231.83,658.02 232.12,655.98 233.00,654.20 C 233.73,652.72 234.87,651.33 236.30,650.50 C 238.57,649.19 241.18,648.52 243.75,648.00 C 246.21,647.51 248.75,647.31 251.25,647.50 C 253.31,647.65 255.28,648.38 257.25,649.00 C 260.29,649.95 263.25,651.13 266.25,652.20  L296,663.4 L339,663.4 Q343.4,663.4 343.4,668 V672 Q343.4,676.3 339,676.3 L 296.00,676.30 C 292.33,677.53 288.65,678.73 285.00,680.00 C 281.65,681.16 278.33,682.39 275.00,683.60 C 270.83,685.12 266.66,686.66 262.50,688.20 C 260.00,689.13 257.59,690.38 255.00,691.00 C 252.56,691.59 250.00,692.03 247.50,691.80 C 244.91,691.56 242.33,690.77 240.00,689.60 C 237.75,688.47 235.40,687.10 234.00,685.00 C 232.46,682.68 232.40,679.67 231.60,677.00  Z" fill="url(#gUArm)" stroke="#555" stroke-width="0.9"/><circle cx="249" cy="669.6" r="4.4" fill="#fff" stroke="#555" stroke-width="1"/><rect x="330.70" y="658.00" width="12.70" height="5.20" rx="0" fill="url(#gDarkF)" stroke="#e2cf1e" stroke-width="0.9"/><rect x="330.70" y="676.70" width="12.70" height="5.30" rx="0" fill="url(#gDarkF)" stroke="#e2cf1e" stroke-width="0.9"/><path d="M231,656.2 H214 V681 H231 V677.8 H227.2 V659.8 H231 Z" fill="#8a8a8a" stroke="#555" stroke-width="0.6"/><rect x="208.10" y="658.20" width="21.80" height="21.80" rx="2" fill="#fbf3a0" opacity="0.3"/><rect x="211.00" y="659.70" width="15.60" height="4.50" rx="0" fill="url(#gDarkF)" stroke="#e2cf1e" stroke-width="0.9"/><rect x="209.60" y="665.30" width="18.80" height="7.90" rx="0" fill="url(#gDarkF)" stroke="#e2cf1e" stroke-width="0.9"/><rect x="211.00" y="674.20" width="15.60" height="4.30" rx="0" fill="url(#gDarkF)" stroke="#e2cf1e" stroke-width="0.9"/><rect x="252.5" y="641" width="6.2" height="9" fill="#8a8a8a"/><rect x="239" y="635.6" width="14.5" height="4.5" fill="url(#gRodH)" stroke="#666" stroke-width="0.5"/><rect x="228.00" y="631.00" width="13.00" height="13.00" rx="2" fill="#fbf3a0" opacity="0.3"/><rect x="229.50" y="632.50" width="10.00" height="2.80" rx="0" fill="url(#gDarkF)" stroke="#e2cf1e" stroke-width="0.7"/><rect x="230.30" y="636.10" width="8.40" height="3.00" rx="0" fill="url(#gDarkF)" stroke="#e2cf1e" stroke-width="0.7"/><rect x="229.50" y="639.90" width="10.00" height="2.60" rx="0" fill="url(#gDarkF)" stroke="#e2cf1e" stroke-width="0.7"/><rect x="251.30" y="631.00" width="12.40" height="13.00" rx="2" fill="#fbf3a0" opacity="0.3"/><rect x="252.80" y="632.50" width="9.40" height="2.80" rx="0" fill="url(#gDarkF)" stroke="#e2cf1e" stroke-width="0.7"/><rect x="253.60" y="636.10" width="7.80" height="3.00" rx="0" fill="url(#gDarkF)" stroke="#e2cf1e" stroke-width="0.7"/><rect x="252.80" y="639.90" width="9.40" height="2.60" rx="0" fill="url(#gDarkF)" stroke="#e2cf1e" stroke-width="0.7"/><rect x="422" y="669" width="120" height="7.6" fill="url(#gRodH)" stroke="#555" stroke-width="0.6"/><rect x="403.50" y="660.70" width="20.20" height="24.60" rx="2" fill="#fbf3a0" opacity="0.3"/><rect x="406.60" y="662.20" width="14.30" height="4.70" rx="0" fill="url(#gDarkF)" stroke="#e2cf1e" stroke-width="0.9"/><rect x="405.00" y="667.80" width="17.20" height="10.00" rx="0" fill="url(#gDarkF)" stroke="#e2cf1e" stroke-width="0.9"/><rect x="406.60" y="679.00" width="14.30" height="4.80" rx="0" fill="url(#gDarkF)" stroke="#e2cf1e" stroke-width="0.9"/><path d="M563,660 H540 V686 H563 V682.2 H545 V663.8 H563 Z" fill="#8a8a8a" stroke="#555" stroke-width="0.6"/><rect x="543.00" y="661.50" width="21.50" height="22.00" rx="2" fill="#fbf3a0" opacity="0.3"/><rect x="545.50" y="663.00" width="16.80" height="5.20" rx="0" fill="url(#gDarkF)" stroke="#e2cf1e" stroke-width="0.9"/><rect x="544.50" y="669.00" width="18.50" height="8.80" rx="0" fill="url(#gDarkF)" stroke="#e2cf1e" stroke-width="0.9"/><rect x="545.50" y="678.50" width="16.80" height="3.50" rx="0" fill="url(#gDarkF)" stroke="#e2cf1e" stroke-width="0.9"/><rect x="551.5" y="635" width="14" height="4.5" fill="url(#gRodH)" stroke="#666" stroke-width="0.5"/><rect x="540.50" y="631.00" width="12.50" height="12.50" rx="2" fill="#fbf3a0" opacity="0.3"/><rect x="542.00" y="632.50" width="9.50" height="2.80" rx="0" fill="url(#gDarkF)" stroke="#e2cf1e" stroke-width="0.7"/><rect x="542.80" y="636.10" width="7.90" height="3.00" rx="0" fill="url(#gDarkF)" stroke="#e2cf1e" stroke-width="0.7"/><rect x="542.00" y="639.90" width="9.50" height="2.10" rx="0" fill="url(#gDarkF)" stroke="#e2cf1e" stroke-width="0.7"/><rect x="564.00" y="631.00" width="12.50" height="12.50" rx="2" fill="#fbf3a0" opacity="0.3"/><rect x="565.50" y="632.50" width="9.50" height="2.80" rx="0" fill="url(#gDarkF)" stroke="#e2cf1e" stroke-width="0.7"/><rect x="566.30" y="636.10" width="7.90" height="3.00" rx="0" fill="url(#gDarkF)" stroke="#e2cf1e" stroke-width="0.7"/><rect x="565.50" y="639.90" width="9.50" height="2.10" rx="0" fill="url(#gDarkF)" stroke="#e2cf1e" stroke-width="0.7"/>
<use href="#tire" transform="translate(126,146) scale(1,1)"/><use href="#tire" transform="translate(674.5,146) scale(-1.00714,1.00295)"/><use href="#tire" transform="translate(131.5,570) scale(0.992857,1)"/><use href="#tire" transform="translate(670.5,570) scale(-1.01429,1)"/>
<circle cx="400.5" cy="127.3" r="14.4" fill="#fff" stroke="#000" stroke-width="1.5"/><text x="0" y="0" transform="translate(400.5,132.5) scale(1.3,1)" text-anchor="middle" font-family="Liberation Serif" font-weight="bold" font-style="italic" font-size="17" fill="#000" stroke="#000" stroke-width="0.75">2</text><line x1="386.00" y1="131.50" x2="342.16" y2="147.00" stroke="#000" stroke-width="1.5"/><path d="M336.50,149.00 L342.03,143.65 L344.17,149.68 Z" fill="#000"/><line x1="415.00" y1="131.50" x2="452.02" y2="146.19" stroke="#000" stroke-width="1.5"/><path d="M457.60,148.40 L449.91,148.79 L452.27,142.84 Z" fill="#000"/><circle cx="371" cy="219.4" r="14.4" fill="#fff" stroke="#000" stroke-width="1.5"/><text x="0" y="0" transform="translate(359.20,224.60) scale(1.33,1)" font-family="Liberation Serif" font-weight="bold" font-style="italic" font-size="17" fill="#000" stroke="#000" stroke-width="0.75">5</text><text x="0" y="0" transform="translate(371.20,224.60) scale(1.33,1)" font-family="Liberation Serif" font-weight="bold" font-style="italic" font-size="17" fill="#000" stroke="#000" stroke-width="0.75">0</text><line x1="356.70" y1="221.00" x2="350.98" y2="221.49" stroke="#000" stroke-width="1.5"/><path d="M345.00,222.00 L351.70,218.22 L352.25,224.59 Z" fill="#000"/><circle cx="400" cy="275.3" r="14.4" fill="#fff" stroke="#000" stroke-width="1.5"/><path d="M397.30,280.60 l4.1,0 l2.15,-11.9 l-3.25,0 l-2.5,1.5 l-0.3,1.5 l2.07,-0.1 z" fill="#000" stroke="#000" stroke-width="0.4" stroke-linejoin="round"/><line x1="385.60" y1="277.20" x2="298.04" y2="304.04" stroke="#000" stroke-width="1.5"/><path d="M292.30,305.80 L298.05,300.69 L299.93,306.81 Z" fill="#000"/><line x1="414.40" y1="277.20" x2="502.06" y2="304.04" stroke="#000" stroke-width="1.5"/><path d="M507.80,305.80 L500.17,306.81 L502.04,300.69 Z" fill="#000"/><circle cx="448" cy="316.8" r="14.4" fill="#fff" stroke="#000" stroke-width="1.5"/><text x="0" y="0" transform="translate(438.80,322.00) scale(1.28,1)" font-family="Liberation Serif" font-weight="bold" font-style="italic" font-size="17" fill="#000" stroke="#000" stroke-width="0.75">3</text><path d="M450.60,322.10 l4.1,0 l2.15,-11.9 l-3.25,0 l-2.5,1.5 l-0.3,1.5 l2.07,-0.1 z" fill="#000" stroke="#000" stroke-width="0.4" stroke-linejoin="round"/><line x1="433.60" y1="316.80" x2="419.50" y2="316.80" stroke="#000" stroke-width="1.5"/><path d="M413.50,316.80 L420.50,313.60 L420.50,320.00 Z" fill="#000"/><circle cx="264.8" cy="360.3" r="14.4" fill="#fff" stroke="#000" stroke-width="1.5"/><text x="0" y="0" transform="translate(253.00,365.50) scale(1.33,1)" font-family="Liberation Serif" font-weight="bold" font-style="italic" font-size="17" fill="#000" stroke="#000" stroke-width="0.75">3</text><text x="0" y="0" transform="translate(265.00,365.50) scale(1.33,1)" font-family="Liberation Serif" font-weight="bold" font-style="italic" font-size="17" fill="#000" stroke="#000" stroke-width="0.75">0</text><line x1="252.00" y1="367.50" x2="226.48" y2="384.65" stroke="#000" stroke-width="1.5"/><path d="M221.50,388.00 L225.52,381.44 L229.09,386.75 Z" fill="#000"/><circle cx="540.2" cy="360.3" r="14.4" fill="#fff" stroke="#000" stroke-width="1.5"/><text x="0" y="0" transform="translate(528.40,365.50) scale(1.33,1)" font-family="Liberation Serif" font-weight="bold" font-style="italic" font-size="17" fill="#000" stroke="#000" stroke-width="0.75">3</text><text x="0" y="0" transform="translate(540.40,365.50) scale(1.33,1)" font-family="Liberation Serif" font-weight="bold" font-style="italic" font-size="17" fill="#000" stroke="#000" stroke-width="0.75">0</text><line x1="553.30" y1="367.50" x2="578.73" y2="384.65" stroke="#000" stroke-width="1.5"/><path d="M583.70,388.00 L576.11,386.74 L579.69,381.43 Z" fill="#000"/><circle cx="400.4" cy="361.6" r="14.4" fill="#fff" stroke="#000" stroke-width="1.5"/><path d="M391.70,366.90 l4.1,0 l2.15,-11.9 l-3.25,0 l-2.5,1.5 l-0.3,1.5 l2.07,-0.1 z" fill="#000" stroke="#000" stroke-width="0.4" stroke-linejoin="round"/><text x="0" y="0" transform="translate(398.40,366.80) scale(1.28,1)" font-family="Liberation Serif" font-weight="bold" font-style="italic" font-size="17" fill="#000" stroke="#000" stroke-width="0.75">0</text><line x1="391.00" y1="372.50" x2="327.10" y2="440.62" stroke="#000" stroke-width="1.5"/><path d="M323.00,445.00 L325.45,437.71 L330.12,442.08 Z" fill="#000"/><line x1="409.00" y1="372.50" x2="469.01" y2="440.02" stroke="#000" stroke-width="1.5"/><path d="M473.00,444.50 L465.96,441.39 L470.74,437.14 Z" fill="#000"/><circle cx="405.5" cy="402.2" r="14.4" fill="#fff" stroke="#000" stroke-width="1.5"/><text x="0" y="0" transform="translate(396.30,407.40) scale(1.28,1)" font-family="Liberation Serif" font-weight="bold" font-style="italic" font-size="17" fill="#000" stroke="#000" stroke-width="0.75">2</text><path d="M408.10,407.50 l4.1,0 l2.15,-11.9 l-3.25,0 l-2.5,1.5 l-0.3,1.5 l2.07,-0.1 z" fill="#000" stroke="#000" stroke-width="0.4" stroke-linejoin="round"/><line x1="407.80" y1="416.50" x2="411.57" y2="431.87" stroke="#000" stroke-width="1.5"/><path d="M413.00,437.70 L408.22,431.66 L414.44,430.14 Z" fill="#000"/><circle cx="540.3" cy="459.8" r="14.4" fill="#fff" stroke="#000" stroke-width="1.5"/><text x="0" y="0" transform="translate(540.3,465) scale(1.3,1)" text-anchor="middle" font-family="Liberation Serif" font-weight="bold" font-style="italic" font-size="17" fill="#000" stroke="#000" stroke-width="0.75">3</text><line x1="547.50" y1="472.50" x2="559.52" y2="493.49" stroke="#000" stroke-width="1.5"/><path d="M562.50,498.70 L556.24,494.22 L561.80,491.04 Z" fill="#000"/><circle cx="383.8" cy="587.5" r="14.4" fill="#fff" stroke="#000" stroke-width="1.5"/><text x="0" y="0" transform="translate(372.00,592.70) scale(1.33,1)" font-family="Liberation Serif" font-weight="bold" font-style="italic" font-size="17" fill="#000" stroke="#000" stroke-width="0.75">2</text><text x="0" y="0" transform="translate(384.00,592.70) scale(1.33,1)" font-family="Liberation Serif" font-weight="bold" font-style="italic" font-size="17" fill="#000" stroke="#000" stroke-width="0.75">0</text><line x1="376.00" y1="575.00" x2="365.56" y2="560.83" stroke="#000" stroke-width="1.5"/><path d="M362.00,556.00 L368.73,559.74 L363.58,563.53 Z" fill="#000"/><circle cx="218" cy="614.5" r="14.4" fill="#fff" stroke="#000" stroke-width="1.5"/><path d="M209.30,619.80 l4.1,0 l2.15,-11.9 l-3.25,0 l-2.5,1.5 l-0.3,1.5 l2.07,-0.1 z" fill="#000" stroke="#000" stroke-width="0.4" stroke-linejoin="round"/><text x="0" y="0" transform="translate(216.00,619.70) scale(1.28,1)" font-family="Liberation Serif" font-weight="bold" font-style="italic" font-size="17" fill="#000" stroke="#000" stroke-width="0.75">8</text><line x1="218.30" y1="629.00" x2="218.59" y2="644.00" stroke="#000" stroke-width="1.5"/><path d="M218.70,650.00 L215.37,643.06 L221.77,642.94 Z" fill="#000"/><circle cx="265.5" cy="595" r="14.4" fill="#fff" stroke="#000" stroke-width="1.5"/><path d="M256.80,600.30 l4.1,0 l2.15,-11.9 l-3.25,0 l-2.5,1.5 l-0.3,1.5 l2.07,-0.1 z" fill="#000" stroke="#000" stroke-width="0.4" stroke-linejoin="round"/><text x="0" y="0" transform="translate(263.50,600.20) scale(1.28,1)" font-family="Liberation Serif" font-weight="bold" font-style="italic" font-size="17" fill="#000" stroke="#000" stroke-width="0.75">6</text><line x1="261.00" y1="609.50" x2="259.01" y2="624.06" stroke="#000" stroke-width="1.5"/><path d="M258.20,630.00 L255.98,622.63 L262.32,623.50 Z" fill="#000"/><circle cx="379.5" cy="622" r="14.4" fill="#fff" stroke="#000" stroke-width="1.5"/><path d="M370.80,627.30 l4.1,0 l2.15,-11.9 l-3.25,0 l-2.5,1.5 l-0.3,1.5 l2.07,-0.1 z" fill="#000" stroke="#000" stroke-width="0.4" stroke-linejoin="round"/><text x="0" y="0" transform="translate(377.50,627.20) scale(1.28,1)" font-family="Liberation Serif" font-weight="bold" font-style="italic" font-size="17" fill="#000" stroke="#000" stroke-width="0.75">7</text><line x1="369.50" y1="632.50" x2="351.13" y2="651.85" stroke="#000" stroke-width="1.5"/><path d="M347.00,656.20 L349.50,648.92 L354.14,653.33 Z" fill="#000"/><circle cx="455.5" cy="622.5" r="14.4" fill="#fff" stroke="#000" stroke-width="1.5"/><path d="M446.80,627.80 l4.1,0 l2.15,-11.9 l-3.25,0 l-2.5,1.5 l-0.3,1.5 l2.07,-0.1 z" fill="#000" stroke="#000" stroke-width="0.4" stroke-linejoin="round"/><text x="0" y="0" transform="translate(453.50,627.70) scale(1.28,1)" font-family="Liberation Serif" font-weight="bold" font-style="italic" font-size="17" fill="#000" stroke="#000" stroke-width="0.75">9</text><line x1="446.00" y1="633.00" x2="426.19" y2="652.40" stroke="#000" stroke-width="1.5"/><path d="M421.90,656.60 L424.66,649.42 L429.14,653.99 Z" fill="#000"/><circle cx="532.5" cy="611.3" r="14.4" fill="#fff" stroke="#000" stroke-width="1.5"/><path d="M523.80,616.60 l4.1,0 l2.15,-11.9 l-3.25,0 l-2.5,1.5 l-0.3,1.5 l2.07,-0.1 z" fill="#000" stroke="#000" stroke-width="0.4" stroke-linejoin="round"/><text x="0" y="0" transform="translate(530.50,616.50) scale(1.28,1)" font-family="Liberation Serif" font-weight="bold" font-style="italic" font-size="17" fill="#000" stroke="#000" stroke-width="0.75">5</text><line x1="545.00" y1="619.00" x2="560.97" y2="627.25" stroke="#000" stroke-width="1.5"/><path d="M566.30,630.00 L558.61,629.63 L561.55,623.94 Z" fill="#000"/><circle cx="566.1" cy="722.8" r="14.4" fill="#fff" stroke="#000" stroke-width="1.5"/><path d="M557.40,728.10 l4.1,0 l2.15,-11.9 l-3.25,0 l-2.5,1.5 l-0.3,1.5 l2.07,-0.1 z" fill="#000" stroke="#000" stroke-width="0.4" stroke-linejoin="round"/><text x="0" y="0" transform="translate(564.10,728.00) scale(1.28,1)" font-family="Liberation Serif" font-weight="bold" font-style="italic" font-size="17" fill="#000" stroke="#000" stroke-width="0.75">8</text><line x1="565.30" y1="708.20" x2="561.60" y2="694.78" stroke="#000" stroke-width="1.5"/><path d="M560.00,689.00 L564.95,694.90 L558.78,696.60 Z" fill="#000"/><circle cx="399.8" cy="766" r="14.4" fill="#fff" stroke="#000" stroke-width="1.5"/><text x="0" y="0" transform="translate(399.8,771.2) scale(1.3,1)" text-anchor="middle" font-family="Liberation Serif" font-weight="bold" font-style="italic" font-size="17" fill="#000" stroke="#000" stroke-width="0.75">4</text><line x1="389.50" y1="756.00" x2="356.46" y2="732.02" stroke="#000" stroke-width="1.5"/><path d="M351.60,728.50 L359.14,730.02 L355.39,735.20 Z" fill="#000"/><line x1="410.50" y1="756.00" x2="443.32" y2="732.49" stroke="#000" stroke-width="1.5"/><path d="M448.20,729.00 L444.37,735.68 L440.65,730.47 Z" fill="#000"/>

<text x="241.5" y="770.6" font-family="Liberation Sans" font-size="18.3" fill="#111" textLength="64" lengthAdjust="spacingAndGlyphs">UPPER</text>
<text x="503.3" y="770.6" font-family="Liberation Sans" font-size="18.3" fill="#111" textLength="68.4" lengthAdjust="spacingAndGlyphs">LOWER</text>
<text x="329.5" y="105.5" font-family="Liberation Serif" font-weight="bold" font-style="italic" font-size="18.6" fill="#000" stroke="#000" stroke-width="0.9" textLength="141" lengthAdjust="spacingAndGlyphs">E46 3 SERIES M3</text>


<linearGradient id="gLogo" x1="0" y1="0" x2="0" y2="1"><stop offset="0" stop-color="#a2a2a2"/><stop offset="0.5" stop-color="#8e8e8e"/><stop offset="1" stop-color="#858585"/></linearGradient>
<rect x="295.3" y="17.2" width="211" height="34.6" rx="8.5" fill="#fff" stroke="#6e6e6e" stroke-width="1.7"/>
<rect x="297.8" y="19.6" width="206" height="29.8" rx="6.5" fill="url(#gLogo)"/>
<g font-family="Liberation Sans" font-weight="bold" font-style="italic">
<text x="301" y="48.8" font-size="42" fill="#c8a050" stroke="#c8a050" stroke-width="1" textLength="28" lengthAdjust="spacingAndGlyphs">P</text>
<text x="298" y="47.5" font-size="42" fill="#0e1826" stroke="#0e1826" stroke-width="1.4" textLength="28" lengthAdjust="spacingAndGlyphs">P</text>
<text x="327.8" y="47" font-size="34" fill="#c8a050" stroke="#c8a050" stroke-width="1" textLength="171" lengthAdjust="spacingAndGlyphs">OWERFLEX</text>
<text x="325" y="45.5" font-size="34" fill="#0e1826" stroke="#0e1826" stroke-width="1.4" textLength="171" lengthAdjust="spacingAndGlyphs">OWERFLEX</text>
</g>
<circle cx="499" cy="35.5" r="1.6" fill="#555"/>
<line x1="346" y1="56.3" x2="507" y2="56.3" stroke="#222" stroke-width="0.8"/>
<text x="352" y="67" font-family="Liberation Sans" font-weight="bold" font-size="25" fill="#dc9c2a" stroke="#5a3a12" stroke-width="1.7" paint-order="stroke" stroke-linejoin="round" textLength="147" lengthAdjust="spacingAndGlyphs">Black Series</text>
<text x="351.5" y="85" font-family="Liberation Sans" font-size="12.5" fill="#e6d45c" textLength="148.5" lengthAdjust="spacingAndGlyphs">Designed for the Track – Ready to Race</text>

</svg></body></html>
